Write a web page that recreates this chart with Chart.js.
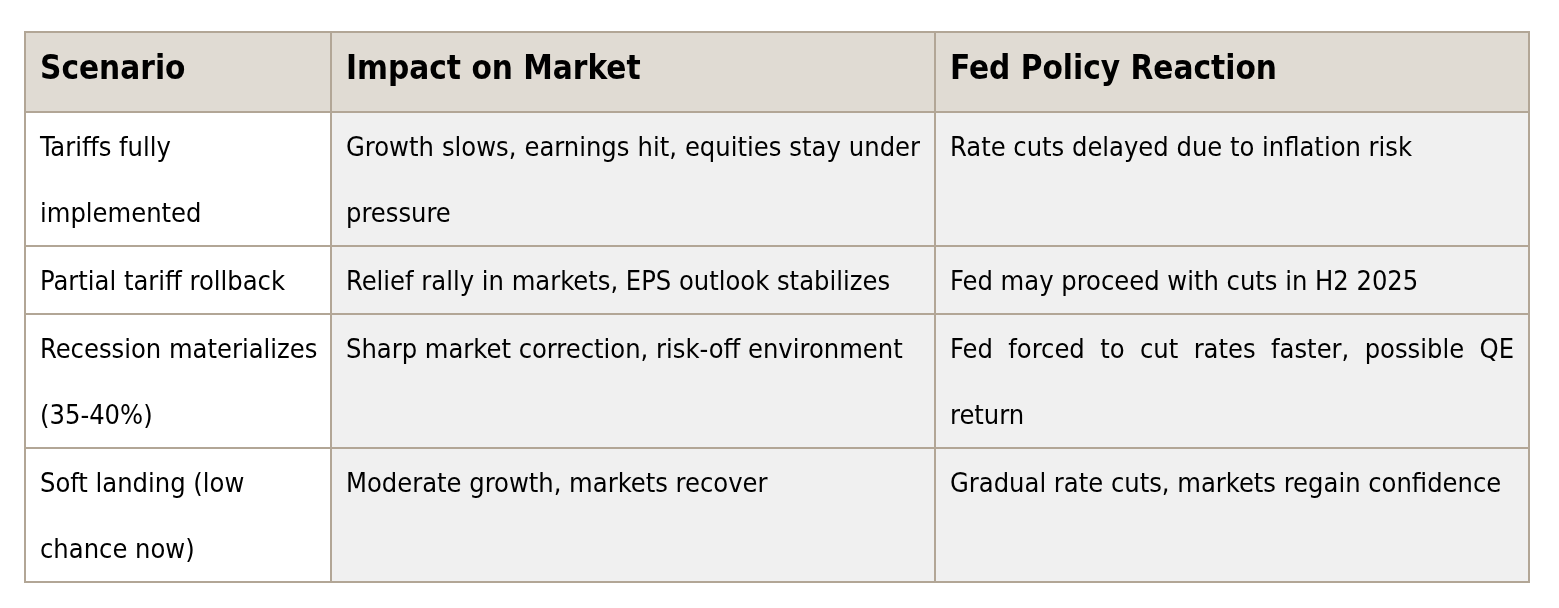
<!DOCTYPE html>
<html>
<head>
<meta charset="utf-8">
<title>Scenario table</title>
<script src="https://cdn.jsdelivr.net/npm/chart.js@4.4.1/dist/chart.umd.min.js"></script>
<style>
  html, body { margin: 0; padding: 0; background: #ffffff; }
  #wrap { width: 1559px; height: 608px; position: relative; }
</style>
</head>
<body>
<div id="wrap"><canvas id="scenarioTable"></canvas></div>
<script>
// table content, one array per column; each cell is a list of its printed lines
const headers = ["Scenario", "Impact on Market", "Fed Policy Reaction"];

const scenarios = [
    ["Tariffs fully", "implemented"],
    ["Partial tariff rollback"],
    ["Recession materializes", "(35-40%)"],
    ["Soft landing (low", "chance now)"]
];

const marketImpact = [
    ["Growth slows, earnings hit, equities stay under", "pressure"],
    ["Relief rally in markets, EPS outlook stabilizes"],
    ["Sharp market correction, risk-off environment"],
    ["Moderate growth, markets recover"]
];

const fedReaction = [
    ["Rate cuts delayed due to inflation risk"],
    ["Fed may proceed with cuts in H2 2025"],
    ["Fed forced to cut rates faster, possible QE", "return"],
    ["Gradual rate cuts, markets regain confidence"]
];

// layout (in table units, mapped through the chart scales)
const colWidths = [306, 604, 594];
const headerHeight = 80;
const lineHeight = 66;
const rowPad = 1;
const cellPadX = 15;

const columns = [scenarios, marketImpact, fedReaction];
const rowLines = scenarios.map((_, i) => Math.max(...columns.map(c => c[i].length)));
const rowHeights = [headerHeight, ...rowLines.map(n => n * lineHeight + rowPad * 2)];

const colEdges = colWidths.reduce((a, w) => (a.push(a[a.length - 1] + w), a), [0]);
const rowEdges = rowHeights.reduce((a, h) => (a.push(a[a.length - 1] + h), a), [0]);
const tableW = colEdges[colEdges.length - 1];
const tableH = rowEdges[rowEdges.length - 1];

const style = {
    border: '#b2a696',
    headerBg: '#e0dbd3',
    firstColBg: '#ffffff',
    bodyBg: '#f0f0f0',
    text: '#000000',
    bodyFont: '27px "DejaVu Sans Condensed", "DejaVu Sans", sans-serif',
    headFont: 'bold 33px "DejaVu Sans Condensed", "DejaVu Sans", sans-serif'
};

function drawLine(ctx, text, x, y, maxW, justify) {
    if (!justify) {
        ctx.fillText(text, x, y);
        return;
    }
    const words = text.split(' ');
    const wordsW = words.reduce((s, w) => s + ctx.measureText(w).width, 0);
    const gap = (maxW - wordsW) / (words.length - 1);
    let cx = x;
    words.forEach(w => {
        ctx.fillText(w, cx, y);
        cx += ctx.measureText(w).width + gap;
    });
}

const tablePlugin = {
    id: 'tableCells',
    beforeDatasetsDraw(chart) {
        const { ctx, scales: { x, y } } = chart;
        const px = v => x.getPixelForValue(v);
        const py = v => y.getPixelForValue(v);
        ctx.save();

        // cell backgrounds
        for (let r = 0; r < rowHeights.length; r++) {
            for (let c = 0; c < colWidths.length; c++) {
                ctx.fillStyle = r === 0 ? style.headerBg : (c === 0 ? style.firstColBg : style.bodyBg);
                const x0 = px(colEdges[c]), x1 = px(colEdges[c + 1]);
                const y0 = py(rowEdges[r]), y1 = py(rowEdges[r + 1]);
                ctx.fillRect(x0, y0, x1 - x0, y1 - y0);
            }
        }

        // text
        ctx.fillStyle = style.text;
        ctx.textBaseline = 'alphabetic';
        ctx.textAlign = 'left';
        ctx.font = style.headFont;
        headers.forEach((h, c) => {
            ctx.fillText(h, px(colEdges[c] + cellPadX), py(rowEdges[0] + 47));
        });

        ctx.font = style.bodyFont;
        columns.forEach((col, c) => {
            col.forEach((lines, i) => {
                const top = rowEdges[i + 1];
                const maxW = px(colEdges[c + 1] - cellPadX) - px(colEdges[c] + cellPadX);
                lines.forEach((line, k) => {
                    const justify = c > 0 && k < lines.length - 1;
                    drawLine(ctx, line, px(colEdges[c] + cellPadX),
                        py(top + rowPad + 43 + k * lineHeight), maxW, justify);
                });
            });
        });

        // grid lines
        ctx.strokeStyle = style.border;
        ctx.lineWidth = 2;
        ctx.beginPath();
        rowEdges.forEach(v => {
            ctx.moveTo(px(0) - 1, py(v));
            ctx.lineTo(px(tableW) + 1, py(v));
        });
        colEdges.forEach(v => {
            ctx.moveTo(px(v), py(0) - 1);
            ctx.lineTo(px(v), py(tableH) + 1);
        });
        ctx.stroke();
        ctx.restore();
    }
};

window.onload = () => {
    const el = document.getElementById('scenarioTable');
    new Chart(el.getContext('2d'), {
        type: 'scatter',
        data: { datasets: [] },
        options: {
            responsive: true,
            maintainAspectRatio: false,
            animation: false,
            layout: { padding: { left: 25, right: 30, top: 32, bottom: 26 } },
            plugins: { legend: { display: false }, tooltip: { enabled: false } },
            scales: {
                x: { type: 'linear', min: 0, max: tableW, display: false },
                y: { type: 'linear', min: 0, max: tableH, reverse: true, display: false }
            }
        },
        plugins: [tablePlugin]
    });
};
</script>
</body>
</html>
